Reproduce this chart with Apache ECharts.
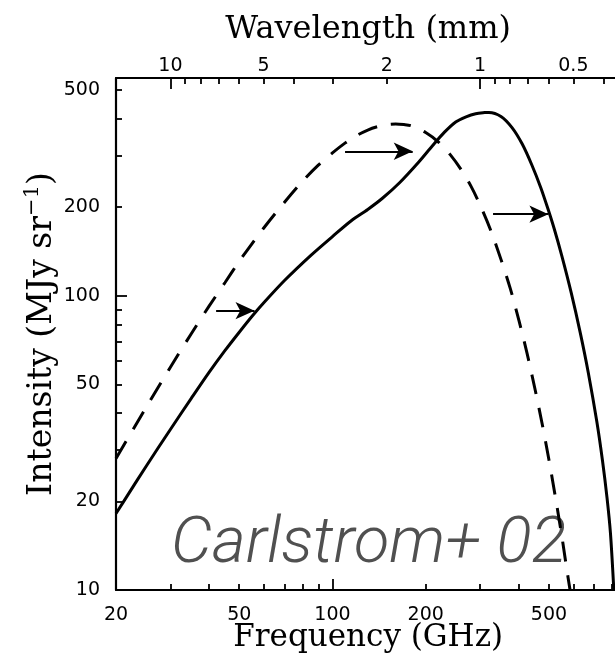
<!DOCTYPE html>
<html><head><meta charset="utf-8">
<script src="https://cdn.jsdelivr.net/npm/echarts@6/dist/echarts.min.js"></script>
<style>html,body{margin:0;padding:0;background:#fff}#c{width:615px;height:656px}</style>
</head><body><div id="c"></div>
<script>
// ---- tick definitions ----
const freqTickLabels = [20, 50, 100, 200, 500];
const freqMinorTicks = [30, 40, 50, 60, 70, 80, 90, 200, 300, 400, 500, 600, 700, 800];
const freqMajorTicks = [100];
const intensityTickLabels = [10, 20, 50, 100, 200, 500];
const intensityMinorTicks = [20, 30, 40, 50, 60, 70, 80, 90, 200, 300, 400, 500];
const intensityMajorTicks = [100];
const wavelengthTickLabels = [10, 5, 2, 1, 0.5];
const wavelengthMinorTicks = [9, 8, 7, 6, 5, 4, 3, 2, 0.9, 0.8, 0.7, 0.6, 0.5, 0.4];
const wavelengthMajorTicks = [10, 1];
const C_MM_GHZ = 299.792458;

// ---- undistorted CMB spectrum (dashed) ----
const undistortedFreq = [20, 25, 30, 35, 40, 45, 50, 60, 70, 80, 90, 100, 110, 120, 130, 140, 150, 160, 170, 180, 200, 220, 240, 260, 280, 300, 325, 350, 375, 400, 425, 450, 475, 500, 525, 550, 570, 585];
const undistortedIntensity = [28, 41.7, 57.3, 74.3, 92.4, 111, 131, 170, 208, 245, 278, 306, 331, 351, 366, 376, 382, 384, 382, 378, 359, 333, 302, 269, 236, 203, 166, 133, 106, 82.5, 63.7, 48.6, 36.9, 27.7, 20.6, 15.3, 11.9, 10];

// ---- SZE-distorted spectrum (solid) ----
const distortedFreq = [20, 22, 25, 30, 35, 40, 45, 50, 55, 60, 70, 85, 100, 115, 130, 145, 165, 190, 210, 230, 250, 270, 290, 310, 320, 350, 380, 410, 440, 470, 496, 520, 550, 590, 632, 670, 714, 745, 770, 790, 810];
const distortedIntensity = [18.2, 21.3, 26.3, 35.2, 44.8, 55.0, 65.2, 75.2, 85.2, 94.7, 112.7, 137, 159, 180, 196.6, 214.6, 242.8, 285, 323, 360, 390, 406, 416, 419.5, 420, 407, 373, 328, 279, 234, 198, 169, 137, 102.5, 74.4, 54.8, 37.3, 27.4, 20.6, 15.6, 10];

// ---- shift arrows ----
const arrowFromFreq = [42.1, 109.8, 330];
const arrowToFreq = [56, 181.6, 498];
const arrowIntensity = [89, 310, 189.5];

const zip = (a, b) => a.map((v, i) => [v, b[i]]);
const FONT_SANS = 'DejaVu Sans';
const FONT_SERIF = 'DejaVu Serif';

const chart = echarts.init(document.getElementById('c'), null, {renderer: 'canvas'});

const gridCfg = {left: 116, top: 78, height: 512, width: 504.3, outerBoundsMode: 'none', containLabel: false};
const X_MIN = 20, X_MAX = 850, Y_MIN = 10, Y_MAX = 550;

function xBase(extra) {
  return Object.assign({
    type: 'log', logBase: 10, min: X_MIN, max: X_MAX, gridIndex: 0, nameMoveOverlap: false,
    splitLine: {show: false}, minorTick: {show: false}, minorSplitLine: {show: false}
  }, extra);
}
function yBase(extra) {
  return Object.assign({
    type: 'log', logBase: 10, min: Y_MIN, max: Y_MAX, gridIndex: 0, nameMoveOverlap: false,
    splitLine: {show: false}, minorTick: {show: false}, minorSplitLine: {show: false}
  }, extra);
}
const lineStyleAxis = {color: '#000', width: 2.2};

const option = {
  animation: false,
  backgroundColor: '#fff',
  grid: gridCfg,
  xAxis: [
    xBase({
      position: 'bottom',
      axisLine: {show: true, lineStyle: lineStyleAxis},
      axisTick: {show: true, inside: true, length: 6, customValues: freqMinorTicks, lineStyle: {color: '#000', width: 1.8}},
      axisLabel: {show: true, customValues: freqTickLabels, margin: 16, fontFamily: FONT_SANS, fontSize: 19, color: '#000', formatter: v => String(Math.round(v))},
      name: 'Frequency (GHz)', nameLocation: 'middle', nameGap: 32,
      nameTextStyle: {fontFamily: FONT_SERIF, fontSize: 31, color: '#000'}
    }),
    xBase({
      position: 'bottom',
      axisLine: {show: false},
      axisTick: {show: true, inside: true, length: 11, customValues: freqMajorTicks, lineStyle: {color: '#000', width: 1.8}},
      axisLabel: {show: false}
    }),
    xBase({
      position: 'top',
      axisLine: {show: true, lineStyle: lineStyleAxis},
      axisTick: {show: true, inside: true, length: 6, customValues: wavelengthMinorTicks.map(l => C_MM_GHZ / l), lineStyle: {color: '#000', width: 1.8}},
      axisLabel: {show: true, customValues: wavelengthTickLabels.map(l => C_MM_GHZ / l), margin: 2, fontFamily: FONT_SANS, fontSize: 19, color: '#000',
        formatter: v => String(Math.round(C_MM_GHZ / v * 10) / 10)},
      name: 'Wavelength (mm)', nameLocation: 'middle', nameGap: 32,
      nameTextStyle: {fontFamily: FONT_SERIF, fontSize: 32, color: '#000'}
    }),
    xBase({
      position: 'top',
      axisLine: {show: false},
      axisTick: {show: true, inside: true, length: 11, customValues: wavelengthMajorTicks.map(l => C_MM_GHZ / l), lineStyle: {color: '#000', width: 1.8}},
      axisLabel: {show: false}
    })
  ],
  yAxis: [
    yBase({
      position: 'left',
      axisLine: {show: true, lineStyle: lineStyleAxis},
      axisTick: {show: true, inside: true, length: 6, customValues: intensityMinorTicks, lineStyle: {color: '#000', width: 1.8}},
      axisLabel: {show: true, customValues: intensityTickLabels, margin: 16, fontFamily: FONT_SANS, fontSize: 19, color: '#000', formatter: v => String(Math.round(v))},
      name: 'Intensity (MJy sr{sup|\u22121})', nameLocation: 'middle', nameGap: 53, nameRotate: 90,
      nameTextStyle: {fontFamily: FONT_SERIF, fontSize: 33, color: '#000',
        rich: {sup: {fontFamily: FONT_SERIF, fontSize: 21, color: '#000', padding: [0, 0, 20, 0]}}}
    }),
    yBase({
      position: 'left',
      axisLine: {show: false},
      axisTick: {show: true, inside: true, length: 11, customValues: intensityMajorTicks, lineStyle: {color: '#000', width: 1.8}},
      axisLabel: {show: false}
    })
  ],
  series: [
    {
      name: 'undistorted', type: 'line', xAxisIndex: 0, yAxisIndex: 0,
      data: zip(undistortedFreq, undistortedIntensity),
      showSymbol: false, smooth: 0.3,
      lineStyle: {color: '#000', width: 3, type: [20, 14]}
    },
    {
      name: 'distorted', type: 'line', xAxisIndex: 0, yAxisIndex: 0,
      data: zip(distortedFreq, distortedIntensity),
      showSymbol: false, smooth: 0.3,
      lineStyle: {color: '#000', width: 3, type: 'solid'},
      markLine: {
        silent: true, animation: false,
        symbol: ['none', 'arrow'], symbolSize: [13, 19],
        label: {show: false},
        lineStyle: {color: '#000', width: 1.8, type: 'solid'},
        emphasis: {disabled: true},
        data: arrowFromFreq.map((f, i) => [
          {coord: [f, arrowIntensity[i]]},
          {coord: [arrowToFreq[i], arrowIntensity[i]]}
        ])
      }
    }
  ],
  graphic: [
    {
      type: 'text', x: 171, y: 546, silent: true,
      style: {text: 'Carlstrom+ 02', fontFamily: 'Roboto, "Liberation Sans", sans-serif', fontSize: 65, fontStyle: 'italic', fontWeight: 300,
        fill: '#505050', align: 'left', verticalAlign: 'middle'}
    }
  ]
};
chart.setOption(option);
</script>
</body></html>
